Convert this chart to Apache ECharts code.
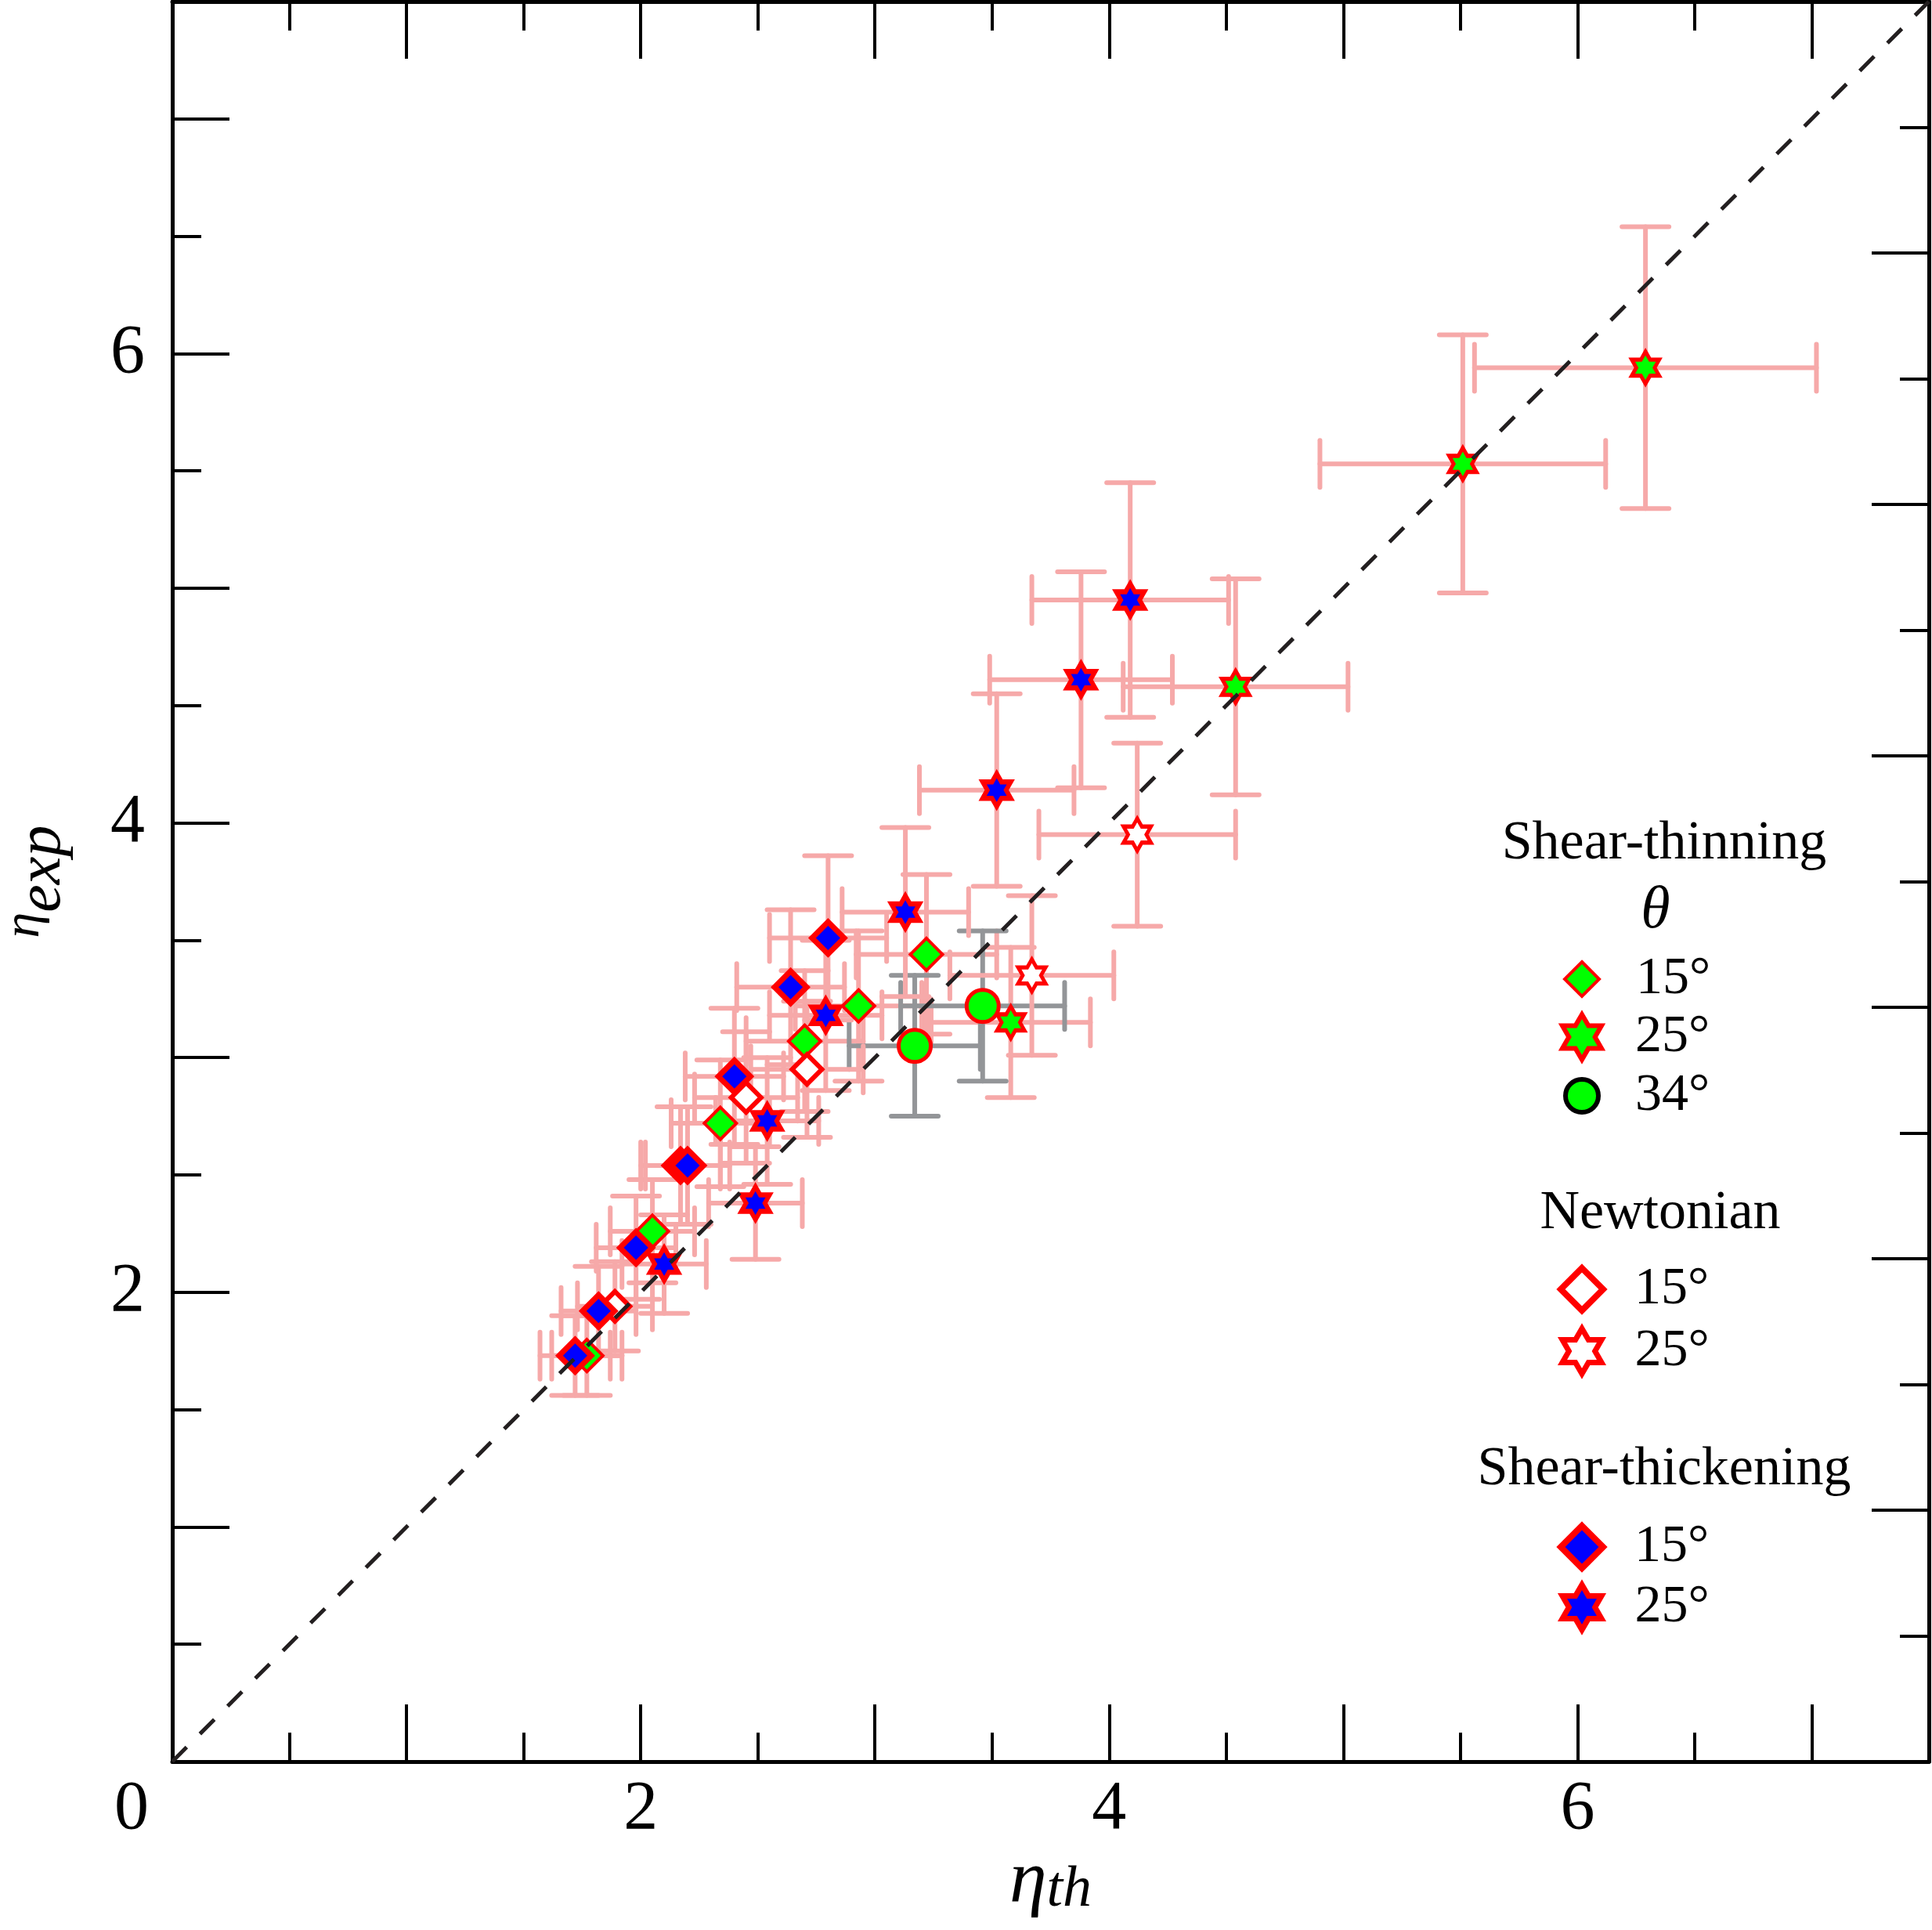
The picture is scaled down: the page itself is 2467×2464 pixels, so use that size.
<!DOCTYPE html>
<html>
<head>
<meta charset="utf-8">
<script src="https://cdn.jsdelivr.net/npm/echarts@6/dist/echarts.min.js"></script>
<style>
html, body { margin: 0; padding: 0; background: #fff; }
#chart { width: 2467px; height: 2464px; }
</style>
</head>
<body>
<div id="chart"></div>
<script>
// each point: [eta_th, eta_exp, error on eta_th, error on eta_exp]
var thinning15 = [
    [1.77, 1.73, 0.15, 0.17],
    [2.05, 2.26, 0.18, 0.22],
    [2.34, 2.72, 0.21, 0.27],
    [2.70, 3.07, 0.25, 0.30],
    [2.93, 3.22, 0.27, 0.32],
    [3.22, 3.44, 0.30, 0.34]
];
var thinning25 = [
    [3.58, 3.15, 0.34, 0.32],
    [4.54, 4.58, 0.48, 0.46],
    [5.51, 5.53, 0.61, 0.55],
    [6.29, 5.94, 0.73, 0.60]
];
var thinning34 = [
    [3.17, 3.05, 0.28, 0.30],
    [3.46, 3.22, 0.35, 0.32]
];
var newtonian15 = [
    [1.89, 1.94, 0.16, 0.19],
    [2.45, 2.83, 0.22, 0.28],
    [2.71, 2.95, 0.24, 0.29]
];
var newtonian25 = [
    [3.67, 3.35, 0.35, 0.34],
    [4.12, 3.95, 0.42, 0.39]
];
var thickening15 = [
    [1.72, 1.73, 0.15, 0.17],
    [1.82, 1.92, 0.16, 0.19],
    [1.98, 2.19, 0.17, 0.22],
    [2.17, 2.54, 0.17, 0.25],
    [2.20, 2.54, 0.18, 0.25],
    [2.40, 2.92, 0.21, 0.29],
    [2.64, 3.30, 0.23, 0.33],
    [2.80, 3.51, 0.25, 0.35]
];
var thickening25 = [
    [2.10, 2.12, 0.18, 0.21],
    [2.49, 2.38, 0.20, 0.24],
    [2.54, 2.73, 0.22, 0.27],
    [2.79, 3.18, 0.24, 0.32],
    [3.13, 3.62, 0.27, 0.36],
    [3.52, 4.14, 0.33, 0.41],
    [3.88, 4.61, 0.39, 0.46],
    [4.09, 4.95, 0.42, 0.50]
];
var diagonal = [[0, 0], [7.5, 7.5]];
var xTickLabels = [0, 2, 4, 6];
var yTickLabels = [2, 4, 6];

var FONT = 'Liberation Serif';
var STAR = 'path://M86.6 0L115.47 50L173.2 50L144.34 100L173.2 150L115.47 150L86.6 200L57.74 150L0 150L28.87 100L0 50L57.74 50Z';
var RED = '#ff0000', GREEN = '#00ff00', BLUE = '#0000ff', WHITE = '#ffffff';
var PINK = '#f6a9a9', GREY = '#939598';

var dom = document.getElementById('chart');
var myChart = echarts.init(dom);

function errorBars(name, data, color) {
    return {
        name: name + ' err',
        type: 'custom',
        data: data,
        silent: true,
        encode: { x: 0, y: 1 },
        renderItem: function (params, api) {
            var x = api.value(0), y = api.value(1);
            var ex = api.value(2), ey = api.value(3);
            var c = api.coord([x, y]);
            var l = api.coord([x - ex, y]);
            var r = api.coord([x + ex, y]);
            var t = api.coord([x, y + ey]);
            var b = api.coord([x, y - ey]);
            var cap = 30;
            var style = { stroke: color, lineWidth: 6, lineCap: 'round' };
            function seg(x1, y1, x2, y2) {
                return { type: 'line', shape: { x1: x1, y1: y1, x2: x2, y2: y2 }, style: style };
            }
            return {
                type: 'group',
                children: [
                    seg(l[0], c[1], r[0], c[1]),
                    seg(c[0], t[1], c[0], b[1]),
                    seg(l[0], c[1] - cap, l[0], c[1] + cap),
                    seg(r[0], c[1] - cap, r[0], c[1] + cap),
                    seg(c[0] - cap, t[1], c[0] + cap, t[1]),
                    seg(c[0] - cap, b[1], c[0] + cap, b[1])
                ]
            };
        }
    };
}

function markers(name, data, symbol, size, fill, border) {
    return {
        name: name,
        type: 'scatter',
        data: data,
        symbol: symbol,
        symbolSize: size,
        silent: true,
        itemStyle: { color: fill, borderColor: RED, borderWidth: border, opacity: 1 }
    };
}

var series = [];
series.push(errorBars('Shear-thinning 15°', thinning15, PINK));
series.push(markers('Shear-thinning 15°', thinning15, 'diamond', 41, GREEN, 4));
series.push(errorBars('Shear-thinning 25°', thinning25, PINK));
series.push(markers('Shear-thinning 25°', thinning25, STAR, [35, 41], GREEN, 5));
series.push(errorBars('Shear-thinning 34°', thinning34, GREY));
series.push(markers('Shear-thinning 34°', thinning34, 'circle', 41, GREEN, 5));
series.push(errorBars('Newtonian 15°', newtonian15, PINK));
series.push(markers('Newtonian 15°', newtonian15, 'diamond', 38, WHITE, 6));
series.push(errorBars('Newtonian 25°', newtonian25, PINK));
series.push(markers('Newtonian 25°', newtonian25, STAR, [35, 41], WHITE, 5));
series.push({
    name: 'equality',
    type: 'line',
    data: diagonal,
    symbol: 'none',
    silent: true,
    lineStyle: { color: '#231f20', width: 5, type: [26, 24] }
});
series.push(errorBars('Shear-thickening 15°', thickening15, PINK));
series.push(markers('Shear-thickening 15°', thickening15, 'diamond', 41, BLUE, 7));
series.push(errorBars('Shear-thickening 25°', thickening25, PINK));
series.push(markers('Shear-thickening 25°', thickening25, STAR, [36, 42], BLUE, 6));

// legend: one small legend per entry so each can sit where the original has it
var legendX = 2020;
var legendItems = [
    ['Shear-thinning 15°', 1250, 'diamond', 44, 44, GREEN, RED, 4],
    ['Shear-thinning 25°', 1324, STAR, 50, 58, GREEN, RED, 6],
    ['Shear-thinning 34°', 1399, 'circle', 42, 42, GREEN, '#000', 6],
    ['Newtonian 15°', 1646, 'diamond', 54, 54, WHITE, RED, 8],
    ['Newtonian 25°', 1725, STAR, 50, 58, WHITE, RED, 7],
    ['Shear-thickening 15°', 1975, 'diamond', 54, 54, BLUE, RED, 8],
    ['Shear-thickening 25°', 2052, STAR, 50, 58, BLUE, RED, 7]
];
var legends = legendItems.map(function (it) {
    var outer = it[3] + it[7];
    return {
        orient: 'vertical',
        left: legendX - outer / 2,
        top: it[1] - 35,
        padding: 0,
        itemGap: 0,
        itemWidth: it[3],
        itemHeight: it[4],
        selectedMode: false,
        data: [{
            name: it[0],
            icon: it[2],
            itemStyle: { color: it[5], borderColor: it[6], borderWidth: it[7] }
        }],
        formatter: function (name) { return name.split(' ')[1]; },
        textStyle: {
            fontFamily: FONT, fontSize: 68, color: '#000', lineHeight: 70,
            padding: [0, 0, 0, 2091 - (legendX + outer / 2) - 5]
        }
    };
});

function legendTitle(text, x, y, italic, size) {
    return {
        type: 'text', x: x, y: y, silent: true,
        style: {
            text: text,
            font: (italic ? 'italic ' : '') + size + 'px "' + FONT + '"',
            textAlign: 'center', textVerticalAlign: 'middle', fill: '#000'
        }
    };
}

var lineStyle = { color: '#000', width: 5 };
var tickStyle = { color: '#000', width: 4 };

function frameAxis(pos, max, interval, tickLen, showLine) {
    return {
        type: 'value', position: pos, min: 0, max: max, interval: interval,
        axisLine: { show: showLine, onZero: false, lineStyle: lineStyle },
        axisTick: { show: true, inside: true, length: tickLen, lineStyle: tickStyle },
        axisLabel: { show: false },
        splitLine: { show: false }
    };
}

var xMain = frameAxis('bottom', 7.5, 1, 73, true);
xMain.axisLabel = {
    show: true, margin: 18, color: '#000', fontFamily: FONT, fontSize: 88,
    formatter: function (v) {
        if (v === 0) return '{z|0}';
        return xTickLabels.indexOf(v) >= 0 ? String(v) : '';
    },
    rich: { z: { fontFamily: FONT, fontSize: 88, color: '#000', padding: [0, 104, 0, 0] } }
};
xMain.name = '{e|η}{s|th}';
xMain.nameLocation = 'middle';
xMain.nameGap = 106;
xMain.nameMoveOverlap = false;
xMain.nameTextStyle = {
    rich: {
        e: { fontFamily: FONT, fontStyle: 'italic', fontSize: 96, lineHeight: 96, verticalAlign: 'top', color: '#000' },
        s: { fontFamily: FONT, fontStyle: 'italic', fontSize: 74, lineHeight: 28, verticalAlign: 'bottom', color: '#000' }
    }
};

var yMain = frameAxis('left', 7.5, 1, 73, true);
yMain.axisLabel = {
    show: true, margin: 35, color: '#000', fontFamily: FONT, fontSize: 88,
    formatter: function (v) { return yTickLabels.indexOf(v) >= 0 ? String(v) : ''; }
};
yMain.name = '{e|η}{s|exp}';
yMain.nameLocation = 'middle';
yMain.nameGap = 109;
yMain.nameMoveOverlap = false;
yMain.nameTextStyle = {
    rich: {
        e: { fontFamily: FONT, fontStyle: 'italic', fontSize: 66, lineHeight: 40, verticalAlign: 'top', color: '#000' },
        s: { fontFamily: FONT, fontStyle: 'italic', fontSize: 80, lineHeight: 112, verticalAlign: 'middle', color: '#000' }
    }
};

option = {
    backgroundColor: '#fff',
    animation: false,
    grid: { left: 220, right: 4, top: 2, bottom: 215, containLabel: false, outerBoundsMode: 'none' },
    xAxis: [
        xMain,
        frameAxis('bottom', 7.5, 0.5, 37, false),
        frameAxis('top', 7.5, 1, 73, true),
        frameAxis('top', 7.5, 0.5, 37, false)
    ],
    yAxis: [
        yMain,
        frameAxis('left', 7.5, 0.5, 37, false),
        frameAxis('right', 7, 1, 73, true),
        frameAxis('right', 7, 0.5, 37, false)
    ],
    legend: legends,
    graphic: [
        legendTitle('Shear-thinning', 2125, 1078, false, 70),
        legendTitle('θ', 2114, 1164, true, 76),
        legendTitle('Newtonian', 2120, 1550, false, 70),
        legendTitle('Shear-thickening', 2125, 1877, false, 70)
    ],
    series: series
};

if (option && typeof option === 'object') {
    myChart.setOption(option, true);
}
</script>
</body>
</html>
